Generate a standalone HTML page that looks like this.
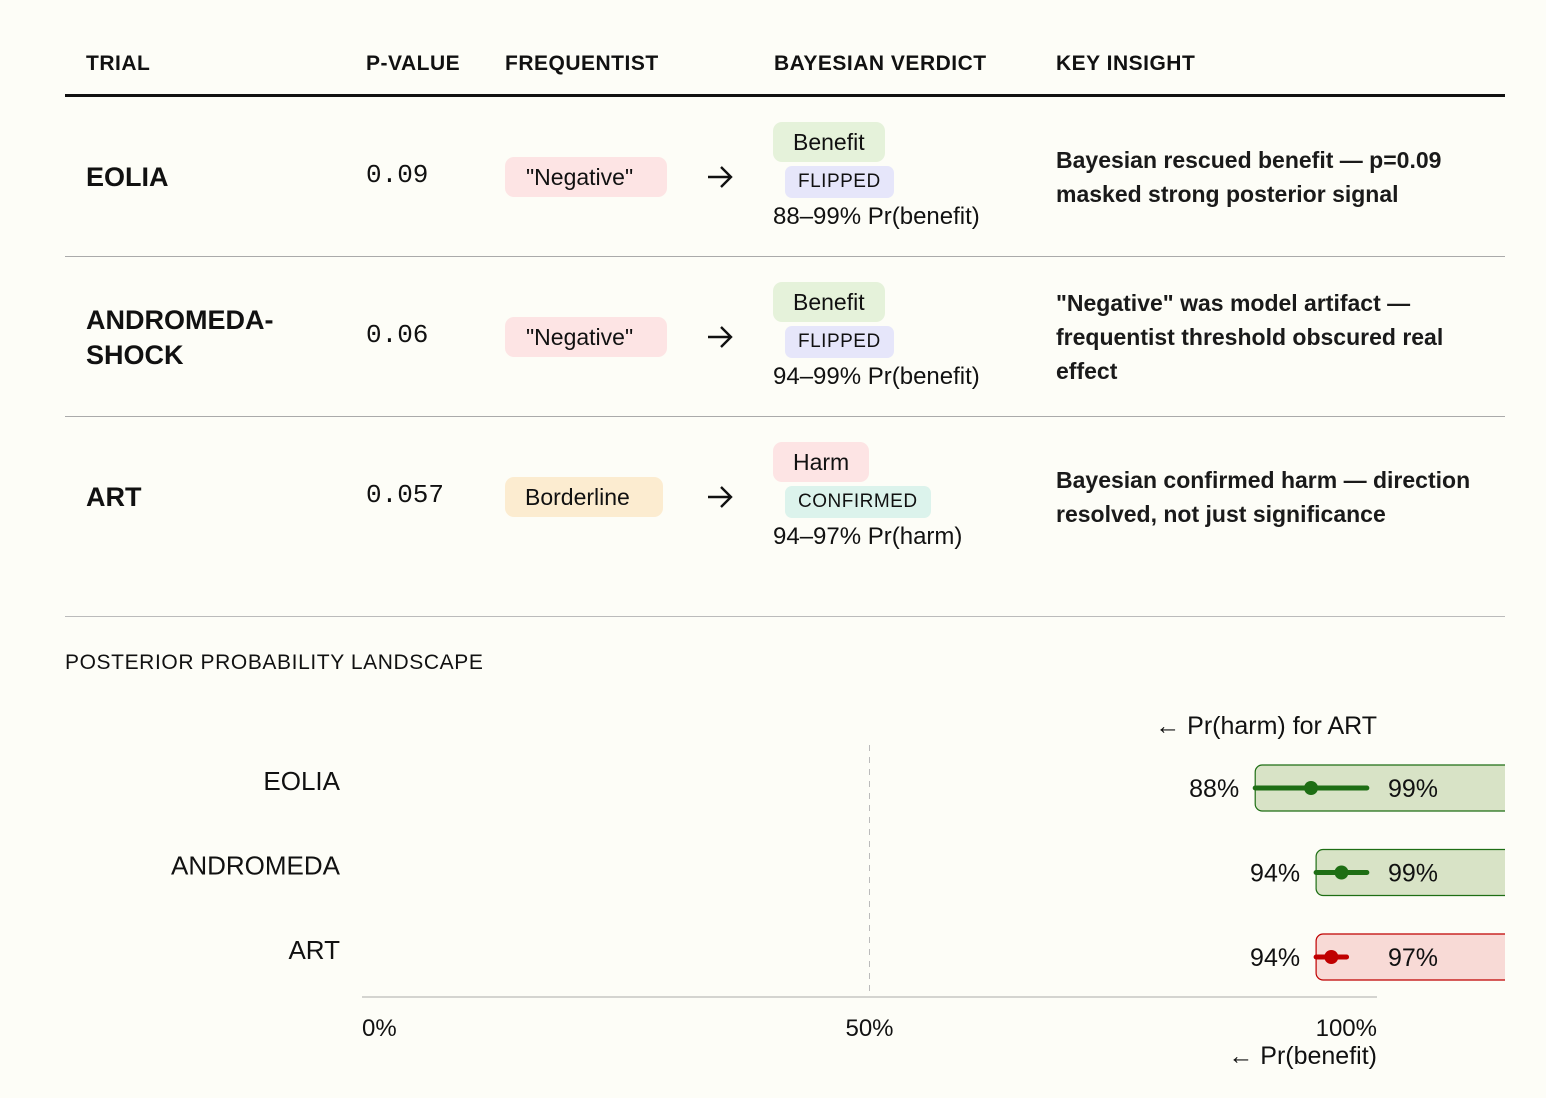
<!DOCTYPE html>
<html><head><meta charset="utf-8"><style>
body{margin:0;width:1546px;height:1098px;background:#fdfdf7;font-family:"Liberation Sans",sans-serif;color:#111;position:relative;overflow:hidden}
.a{position:absolute;white-space:nowrap}
.h{font-size:21px;font-weight:bold;letter-spacing:0.5px;top:52px}
.trial{font-size:27px;font-weight:bold;left:86px;line-height:35px}
.pv{font-family:"Liberation Mono",monospace;font-size:26px;left:366px}
.pill{border-radius:9px;font-size:23px;padding:0 20px;height:40px;line-height:40px}
.tag{border-radius:7px;font-size:19px;letter-spacing:0.5px;padding:0 13px;height:32px;line-height:32px}
.rng{font-size:24px;left:773px}
.ins{font-size:23px;left:1056px;line-height:34px;font-weight:bold;color:#1a1a1a}
.ar{left:706px;width:28px;height:28px}
.line{position:absolute;left:65px;width:1440px;height:1px;background:#aaa}
</style></head><body>
<div class="a h" style="left:86px">TRIAL</div>
<div class="a h" style="left:366px">P-VALUE</div>
<div class="a h" style="left:505px">FREQUENTIST</div>
<div class="a h" style="left:774px">BAYESIAN VERDICT</div>
<div class="a h" style="left:1056px">KEY INSIGHT</div>
<div class="line" style="top:94px;height:3px;background:#111"></div>

<div class="a trial" style="top:160px">EOLIA</div>
<div class="a pv" style="top:160px">0.09</div>
<div class="a pill" style="left:505px;top:157px;background:#fde4e4;padding:0 21px 0 21px;width:120px">"Negative"</div>
<svg class="a ar" style="top:163px" viewBox="0 0 28 28"><path d="M2 14H25M15 4L25 14L15 24" fill="none" stroke="#111" stroke-width="2.4"/></svg>
<div class="a pill" style="left:773px;top:122px;background:#e5f2da">Benefit</div>
<div class="a tag" style="left:785px;top:166px;background:#e6e6fa">FLIPPED</div>
<div class="a rng" style="top:203px">88–99% Pr(benefit)</div>
<div class="a ins" style="top:143px">Bayesian rescued benefit — p=0.09<br>masked strong posterior signal</div>
<div class="line" style="top:256px"></div>

<div class="a trial" style="top:303px">ANDROMEDA-<br>SHOCK</div>
<div class="a pv" style="top:320px">0.06</div>
<div class="a pill" style="left:505px;top:317px;background:#fde4e4;padding:0 21px;width:120px">"Negative"</div>
<svg class="a ar" style="top:323px" viewBox="0 0 28 28"><path d="M2 14H25M15 4L25 14L15 24" fill="none" stroke="#111" stroke-width="2.4"/></svg>
<div class="a pill" style="left:773px;top:282px;background:#e5f2da">Benefit</div>
<div class="a tag" style="left:785px;top:326px;background:#e6e6fa">FLIPPED</div>
<div class="a rng" style="top:363px">94–99% Pr(benefit)</div>
<div class="a ins" style="top:286px">"Negative" was model artifact —<br>frequentist threshold obscured real<br>effect</div>
<div class="line" style="top:416px"></div>

<div class="a trial" style="top:480px">ART</div>
<div class="a pv" style="top:480px">0.057</div>
<div class="a pill" style="left:505px;top:477px;background:#fcecd0;width:118px">Borderline</div>
<svg class="a ar" style="top:483px" viewBox="0 0 28 28"><path d="M2 14H25M15 4L25 14L15 24" fill="none" stroke="#111" stroke-width="2.4"/></svg>
<div class="a pill" style="left:773px;top:442px;background:#fde4e4">Harm</div>
<div class="a tag" style="left:785px;top:486px;background:#dcf3ec">CONFIRMED</div>
<div class="a rng" style="top:523px">94–97% Pr(harm)</div>
<div class="a ins" style="top:463px">Bayesian confirmed harm — direction<br>resolved, not just significance</div>
<div class="line" style="top:616px;background:#bbb"></div>

<div class="a" style="left:65px;top:651px;font-size:21px;letter-spacing:0.6px">POSTERIOR PROBABILITY LANDSCAPE</div>

<svg id="chart" class="a" style="left:0;top:0" width="1546" height="1098">
<defs><clipPath id="clip"><rect x="0" y="0" width="1505" height="1098"/></clipPath></defs>
</svg>
<script>
const trials=["EOLIA","ANDROMEDA","ART"];
const lows=[88,94,94];
const highs=[99,99,97];
const points=[93.5,96.5,95.5];
const kinds=["benefit","benefit","harm"];
const ticks=[0,50,100];
const NS="http://www.w3.org/2000/svg";
const svg=document.getElementById('chart');
const x=v=>362+(1377-362)*v/100;
const y=i=>788+i*84.5;
function mk(t,a){const e=document.createElementNS(NS,t);for(const k in a)e.setAttribute(k,a[k]);svg.appendChild(e);return e;}
let g=mk('line',{x1:x(50),x2:x(50),y1:745,y2:997,stroke:'#bbb','stroke-dasharray':'6,6'});


let ax=mk('line',{x1:362,x2:1377,y1:997,y2:997,stroke:'#aaa'});


ticks.forEach(t=>{
  const e=mk('text',{x:x(t),y:1036,'font-size':24,'text-anchor':t==0?'start':(t==100?'end':'middle'),fill:'#111','font-family':'Liberation Sans'});
  e.textContent=t+'%';
  
  
});
let xt=mk('text',{x:1377,y:1064,'font-size':25,'text-anchor':'end',fill:'#111','font-family':'Liberation Sans'});
xt.textContent='← Pr(benefit)';


let ht=mk('text',{x:1377,y:734,'font-size':25,'text-anchor':'end',fill:'#111','font-family':'Liberation Sans'});
ht.textContent='← Pr(harm) for ART';


trials.forEach((n,i)=>{
  const cy=y(i),harm=kinds[i]=='harm';
  const col=harm?'#c00000':'#1e6e14';
  const lab=mk('text',{x:340,y:cy+2,'font-size':26,'text-anchor':'end',fill:'#111','font-family':'Liberation Sans'});
  lab.textContent=n;
  
  
  const r=mk('rect',{x:x(lows[i]),y:cy-23,width:1520-x(lows[i]),height:46,rx:7,fill:harm?'#f8dad6':'#d8e3c6',stroke:col,'stroke-width':1.2,'clip-path':'url(#clip)'});
  
  
  const l=mk('line',{x1:x(lows[i]),x2:x(highs[i]),y1:cy,y2:cy,stroke:col,'stroke-width':5,'stroke-linecap':'round'});
  
  
  const c=mk('circle',{cx:x(points[i]),cy:cy,r:7,fill:col});
  
  
  const lo=mk('text',{x:x(lows[i])-16,y:cy+9,'font-size':25,'text-anchor':'end',fill:'#111','font-family':'Liberation Sans'});
  lo.textContent=lows[i]+'%';
  
  
  const hi=mk('text',{x:1388,y:cy+9,'font-size':25,fill:'#111','font-family':'Liberation Sans'});
  hi.textContent=highs[i]+'%';
  
  
});
</script>
</body></html>
